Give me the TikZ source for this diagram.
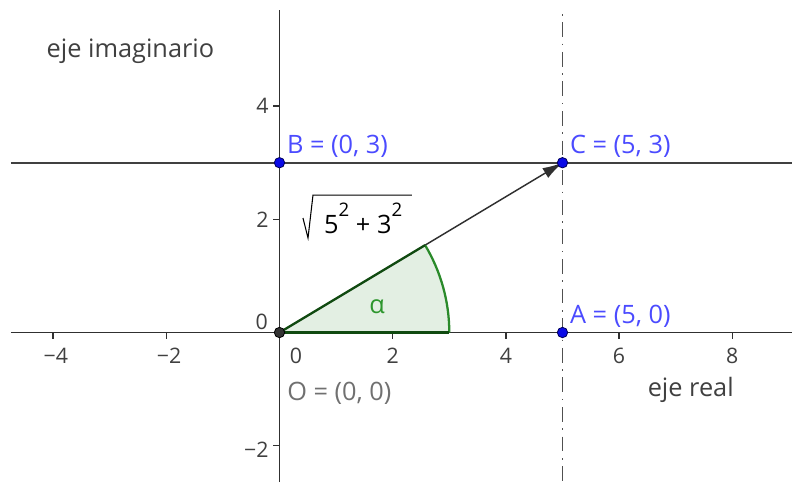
\documentclass[tikz,border=0pt]{standalone}
\usepackage{fontspec}
\setmainfont{Open Sans}
\usetikzlibrary{arrows.meta,calc}
\definecolor{axiscol}{HTML}{303030}
\definecolor{linecol}{HTML}{404040}
\definecolor{dashcol}{HTML}{505050}
\definecolor{ticktext}{HTML}{404040}
\definecolor{labblue}{HTML}{4B4BFF}
\definecolor{ptblue}{HTML}{0A0AE6}
\definecolor{ptedge}{HTML}{00005A}
\definecolor{ograyt}{HTML}{707070}
\definecolor{ogray}{HTML}{333333}
\definecolor{angfill}{HTML}{E3EFE3}
\definecolor{angarc}{HTML}{2A8A2A}
\definecolor{angedge}{HTML}{104A10}
\definecolor{alphacol}{HTML}{2E962E}
\newcommand{\supdig}[1]{\raisebox{12.5pt}{\fontsize{14}{16}\selectfont #1}}
\begin{document}
\begin{tikzpicture}[x=42.45pt,y=42.45pt,
  axisline/.style={draw=axiscol,line width=1.4pt},
  plainline/.style={draw=linecol,line width=1.4pt},
  dashdotline/.style={draw=dashcol,line width=1.3pt,dash pattern=on 1.2pt off 5pt on 11pt off 5pt},
  tickmark/.style={draw=axiscol,line width=1.1pt},
  ticklab/.style={font=\fontsize{16}{18}\selectfont,text=ticktext,inner sep=0pt},
  axislab/.style={font=\fontsize{19}{22}\selectfont,text=ticktext,inner sep=0pt},
  ptlab/.style={font=\fontsize{19}{22}\selectfont,text=labblue,inner sep=0pt,anchor=base west},
  bluept/.style={circle,fill=ptblue,draw=ptedge,line width=0.6pt,minimum size=7.8pt,inner sep=0pt},
  graypt/.style={circle,fill=ogray,draw=black,line width=0.6pt,minimum size=7.8pt,inner sep=0pt},
  vec/.style={draw=axiscol,line width=1.1pt,-{Latex[length=15pt,width=8.5pt]}},
  radical/.style={draw=black,line width=0.8pt,line join=miter},
]
\useasboundingbox (-4.938,-2.641) rectangle (9.055,5.875);
\fill[white] (-4.938,-2.641) rectangle (9.055,5.875);

% named coordinates
\coordinate (O) at (0,0);
\coordinate (A) at (5,0);
\coordinate (B) at (0,3);
\coordinate (C) at (5,3);
\coordinate (R) at (3,0);
\coordinate (xleft) at (-4.744,0);
\coordinate (xright) at (9.055,0);
\coordinate (ytop) at (0,5.70);
\coordinate (ybot) at (0,-2.641);
\coordinate (hleft) at (-4.744,3);
\coordinate (hright) at (9.055,3);
\coordinate (vtop) at (5,5.627);
\coordinate (vbot) at (5,-2.641);

% angle sector fill
\fill[angfill] (O) -- (R) arc[start angle=0,end angle=30.964,radius=3] -- cycle;

% axes
\draw[axisline] (xleft) -- (xright);
\draw[axisline] (ybot) -- (ytop);

% ticks
\foreach \v in {-4,-2,2,4,6,8} \draw[tickmark] (\v,0) -- (\v,-0.11);
\foreach \v in {-2,2,4} \draw[tickmark] (0,\v) -- (-0.12,\v);

% tick labels
\node[ticklab,anchor=base] (xt1) at (-3.95,-0.55) {−4};
\node[ticklab,anchor=base] (xt2) at (-1.95,-0.55) {−2};
\node[ticklab,anchor=base] (xt0) at (0.29,-0.55) {0};
\node[ticklab,anchor=base] (xt3) at (2,-0.55) {2};
\node[ticklab,anchor=base] (xt4) at (4,-0.55) {4};
\node[ticklab,anchor=base] (xt5) at (6,-0.55) {6};
\node[ticklab,anchor=base] (xt6) at (8,-0.55) {8};
\node[ticklab,anchor=east] (yt0) at (-0.2,0.186) {0};
\node[ticklab,anchor=east] (yt1) at (-0.19,2) {2};
\node[ticklab,anchor=east] (yt2) at (-0.19,4) {4};
\node[ticklab,anchor=east] (yt3) at (-0.19,-2.07) {−2};

% lines
\draw[plainline] (hleft) -- (hright);
\draw[dashdotline] (vtop) -- (vbot);

% vector
\draw[vec] (O) -- (C);

% sector edges
\draw[angarc,line width=1.7pt] (R) arc[start angle=0,end angle=30.964,radius=3];
\draw[angedge,line width=1.7pt] (O) -- (R);
\draw[angedge,line width=1.7pt] (O) -- (30.964:3);

% axis names
\node[axislab,anchor=base west] (ejeim) at (-4.117,4.867) {eje imaginario};
\node[axislab,anchor=base west] (ejere) at (6.502,-1.122) {eje real};

% sqrt(5^2+3^2)
\coordinate (rad1) at (0.415,2.023);
\coordinate (rad2) at (0.504,1.670);
\coordinate (rad3) at (0.592,2.429);
\coordinate (rad4) at (2.341,2.429);
\draw[radical] (rad1) -- (rad2) -- (rad3) -- (rad4);
\node[font=\fontsize{19}{22}\selectfont,text=black,inner sep=0pt,anchor=base west] (mod) at (0.786,1.758)
  {5\supdig{2} + 3\supdig{2}};
\node[font=\fontsize{19}{22}\selectfont,text=alphacol,inner sep=0pt] (alpha) at (1.723,0.45) {α};

% points
\node[graypt] (Op) at (O) {};
\node[bluept] (Ap) at (A) {};
\node[bluept] (Bp) at (B) {};
\node[bluept] (Cp) at (C) {};

% point labels
\node[ptlab] (Alab) at ($(A)+(0.13,0.168)$) {A = (5, 0)};
\node[ptlab] (Blab) at ($(B)+(0.13,0.168)$) {B = (0, 3)};
\node[ptlab] (Clab) at ($(C)+(0.13,0.168)$) {C = (5, 3)};
\node[font=\fontsize{19}{22}\selectfont,text=ograyt,inner sep=0pt,anchor=base west] (Olab) at (0.133,-1.193) {O = (0, 0)};
\end{tikzpicture}
\end{document}
